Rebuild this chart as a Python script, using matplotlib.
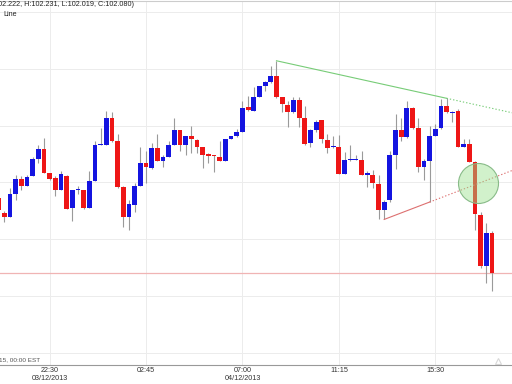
import numpy as np
import matplotlib
matplotlib.use('Agg')
import matplotlib.pyplot as plt

## DATA (15 minute candles, first one is cut by the left edge)

opens = [102.344, 102.292, 102.277, 102.358, 102.411, 102.386, 102.421, 102.484,
         102.516, 102.435, 102.415, 102.375, 102.422, 102.310, 102.373, 102.374,
         102.310, 102.405, 102.531, 102.530, 102.625, 102.545, 102.384, 102.278,
         102.319, 102.389, 102.469, 102.452, 102.522, 102.474, 102.489, 102.532,
         102.585, 102.530, 102.562, 102.551, 102.524, 102.499, 102.493, 102.489,
         102.477, 102.553, 102.562, 102.579, 102.664, 102.653, 102.702, 102.738,
         102.754, 102.773, 102.702, 102.673, 102.647, 102.691, 102.627, 102.539,
         102.586, 102.618, 102.551, 102.523, 102.524, 102.431, 102.480, 102.480,
         102.480, 102.427, 102.427, 102.395, 102.304, 102.337, 102.495, 102.585,
         102.559, 102.662, 102.592, 102.456, 102.477, 102.565, 102.592, 102.668,
         102.646, 102.653, 102.524, 102.536, 102.471, 102.284, 102.105, 102.222]
closes = [102.302, 102.278, 102.358, 102.411, 102.387, 102.418, 102.484, 102.516,
          102.433, 102.411, 102.375, 102.428, 102.308, 102.372, 102.375, 102.310,
          102.405, 102.533, 102.534, 102.625, 102.545, 102.384, 102.278, 102.323,
          102.389, 102.468, 102.454, 102.522, 102.477, 102.489, 102.532, 102.585,
          102.532, 102.562, 102.553, 102.524, 102.498, 102.492, 102.492, 102.477,
          102.553, 102.562, 102.579, 102.661, 102.655, 102.702, 102.738, 102.754,
          102.773, 102.699, 102.676, 102.649, 102.691, 102.627, 102.536, 102.586,
          102.614, 102.553, 102.520, 102.525, 102.431, 102.480, 102.481, 102.481,
          102.427, 102.434, 102.399, 102.302, 102.333, 102.495, 102.585, 102.559,
          102.662, 102.592, 102.456, 102.477, 102.565, 102.588, 102.668, 102.649,
          102.648, 102.524, 102.536, 102.471, 102.288, 102.105, 102.222, 102.080]
highs = [102.351, 102.298, 102.382, 102.425, 102.421, 102.425, 102.491, 102.533,
         102.558, 102.435, 102.421, 102.442, 102.425, 102.372, 102.389, 102.374,
         102.442, 102.547, 102.593, 102.653, 102.647, 102.572, 102.389, 102.337,
         102.397, 102.524, 102.512, 102.540, 102.572, 102.495, 102.547, 102.625,
         102.586, 102.565, 102.598, 102.554, 102.526, 102.505, 102.495, 102.547,
         102.554, 102.565, 102.589, 102.688, 102.703, 102.734, 102.740, 102.758,
         102.811, 102.828, 102.702, 102.688, 102.702, 102.702, 102.670, 102.589,
         102.618, 102.621, 102.572, 102.565, 102.568, 102.506, 102.530, 102.495,
         102.509, 102.442, 102.443, 102.425, 102.337, 102.512, 102.641, 102.625,
         102.688, 102.667, 102.625, 102.484, 102.597, 102.607, 102.694, 102.696,
         102.650, 102.660, 102.554, 102.554, 102.474, 102.295, 102.256, 102.231]
lows = [102.295, 102.261, 102.277, 102.337, 102.372, 102.386, 102.421, 102.470,
        102.432, 102.407, 102.354, 102.375, 102.305, 102.263, 102.361, 102.305,
        102.309, 102.404, 102.530, 102.530, 102.544, 102.382, 102.243, 102.232,
        102.295, 102.386, 102.397, 102.449, 102.474, 102.454, 102.488, 102.530,
        102.509, 102.495, 102.505, 102.505, 102.450, 102.470, 102.436, 102.474,
        102.477, 102.553, 102.561, 102.579, 102.653, 102.653, 102.702, 102.723,
        102.751, 102.698, 102.647, 102.594, 102.646, 102.594, 102.533, 102.526,
        102.579, 102.540, 102.505, 102.522, 102.428, 102.428, 102.477, 102.478,
        102.425, 102.384, 102.380, 102.273, 102.270, 102.333, 102.449, 102.547,
        102.558, 102.589, 102.436, 102.407, 102.331, 102.565, 102.589, 102.646,
        102.612, 102.523, 102.523, 102.471, 102.232, 102.098, 102.046, 102.019]

tick_pos = [9, 26, 43, 60, 77]
tick_labels = ["22:30\n03/12/2013", "02:45", "07:00\n04/12/2013", "11:15", "15:30"]

# trend lines: (x0, y0) -> (x1, y1) solid, then extended dotted to the edge
green_line = [(49, 102.828), (79, 102.696)]
red_line = [(68, 102.270), (76, 102.331)]
circle_center = (84.5, 102.397)
last_close = 102.080

## STYLE

BLUE = '#1414e0'
RED = '#ee1616'
WICK = '#9a9a9a'
GRID = '#ececec'
XMIN, XMAX = 0.24, 90.54
YMIN, YMAX = 101.758, 103.039

plt.rcParams['font.family'] = ['Liberation Sans', 'DejaVu Sans']

fig = plt.figure(figsize=(5.12, 3.84), dpi=100)
ax = fig.add_axes([0, 19 / 384, 1, 1 - 19 / 384 - 0.002])

# grid
for gy in np.arange(101.8, 103.01, 0.2):
    ax.axhline(gy, color=GRID, lw=0.7, zorder=0)
for gx in tick_pos:
    ax.axvline(gx, color=GRID, lw=0.7, zorder=0)

# current price line
ax.axhline(last_close, color='#f0b4b4', lw=0.9, zorder=1)

## CANDLES

x = np.arange(len(opens))
o = np.array(opens)
c = np.array(closes)
up = c >= o
colors = [BLUE if u else RED for u in up]

ax.vlines(x, lows, highs, color=WICK, lw=0.8, zorder=2)
bottoms = np.minimum(o, c)
heights = np.maximum(np.abs(c - o), 0.0035)
ax.bar(x, heights, bottom=bottoms, width=0.84, color=colors, lw=0, zorder=3)

## TREND LINES

def trend(line, color):
    (x0, y0), (x1, y1) = line
    slope = (y1 - y0) / (x1 - x0)
    ax.plot([x0, x1], [y0, y1], color=color, lw=0.8, zorder=4)
    ax.plot([x1, XMAX], [y1, y1 + slope * (XMAX - x1)], color=color, lw=0.8,
            ls=(0, (1.2, 1.8)), zorder=4)

trend(green_line, '#77cc77')
trend(red_line, '#dd7070')

ax.plot([circle_center[0]], [circle_center[1]], marker='o', ms=28.8,
        mfc=(0.6, 0.88, 0.55, 0.45), mec='#88bb88', mew=0.8, zorder=5)

## AXES

ax.set_xlim(XMIN, XMAX)
ax.set_ylim(YMIN, YMAX)
ax.set_yticks([])
ax.set_xticks(tick_pos)
ax.set_xticklabels(tick_labels, fontsize=5.2, color='#333333', linespacing=1.25)
ax.tick_params(axis='x', length=0, pad=1.5)
for side in ['left', 'right']:
    ax.spines[side].set_visible(False)
ax.spines['bottom'].set_color('#999999')
ax.spines['bottom'].set_linewidth(0.8)
ax.spines['top'].set_color('#cccccc')
ax.spines['top'].set_linewidth(0.8)

# header and footer texts (cut by the left edge like the screenshot)
fig.text(134 / 512, 1 - 5 / 384, "USDJPY,M15 (O:102.222, H:102.231, L:102.019, C:102.080)",
         ha='right', va='center', fontsize=5.2, color='#222222')
fig.text(3 / 512, 1 - 14 / 384, "Line", ha='left', va='center', fontsize=5.2,
         color='#222222')
fig.text(40 / 512, 1 - 360 / 384, "USDJPY, M15, 00:00 EST", ha='right', va='center',
         fontsize=4.6, color='#555555')
ax.plot([0.972], [0.012], marker='^', ms=5, mfc='none', mec='#d8d8d8', mew=0.8,
        transform=ax.transAxes, clip_on=False)

fig.savefig('out.png', dpi=100)
